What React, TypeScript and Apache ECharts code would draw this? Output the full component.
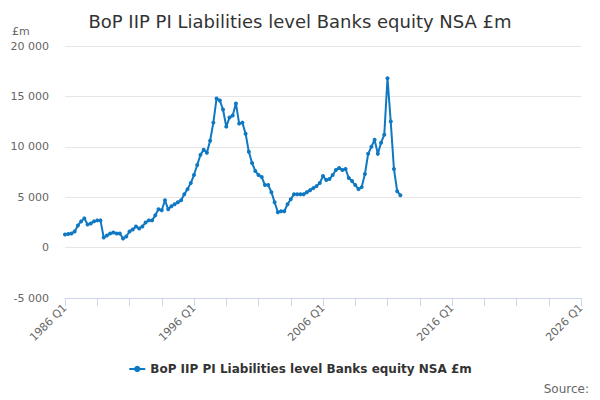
import React, { useEffect, useRef } from "react";
import * as echarts from "echarts";

const title = "BoP IIP PI Liabilities level Banks equity NSA £m";
const seriesName = "BoP IIP PI Liabilities level Banks equity NSA £m";
const unitLabel = "£m";
const sourceLabel = "Source:";
const startYear = 1986;
const endYear = 2026;
const quarterLabels: string[] = [];
for (let y = startYear; y <= endYear; y++) {
  for (let q = 1; q <= 4; q++) {
    if (y === endYear && q > 1) break;
    quarterLabels.push(`${y} Q${q}`);
  }
}
// 1986 Q1 .. 2012 Q1
const values = [
  1300, 1350, 1400, 1600, 2200, 2600, 2900, 2300, 2400, 2600, 2700, 2700,
  1000, 1200, 1400, 1500, 1400, 1400, 900, 1100, 1600, 1800, 2100, 1900,
  2100, 2500, 2700, 2700, 3200, 3800, 3700, 4700, 3800, 4100, 4300, 4500,
  4700, 5300, 5800, 6400, 7200, 8200, 9200, 9700, 9400, 10600, 12400, 14800,
  14600, 13700, 12000, 12900, 13100, 14300, 12300, 12400, 11300, 9500, 8400, 7600,
  7200, 7000, 6200, 6200, 5500, 4500, 3500, 3600, 3600, 4300, 4800, 5300,
  5300, 5300, 5300, 5500, 5700, 5900, 6100, 6400, 7100, 6700, 6800, 7200,
  7700, 7900, 7700, 7800, 6900, 6600, 6200, 5800, 6000, 7300, 9300, 10000,
  10700, 9300, 10400, 11200, 16800, 12500, 7800, 5600, 5200,
];
const yMin = -5000;
const yMax = 20000;
const yStep = 5000;

const fmt = (v: number) => {
  const s = Math.abs(v).toString().replace(/\B(?=(\d{3})+(?!\d))/g, " ");
  return (v < 0 ? "-" : "") + s;
};

export default function App() {
  const ref = useRef<HTMLDivElement>(null);
  useEffect(() => {
    if (!ref.current) return;
    const chart = echarts.init(ref.current, null, { renderer: "svg" });
    const font = "DejaVu Sans";
    chart.setOption({
      animation: false,
      textStyle: { fontFamily: font },
      title: {
        text: title,
        left: "center",
        top: 7,
        textStyle: { fontFamily: font, fontSize: 18, fontWeight: "normal", color: "#333333" },
      },
      graphic: [
        {
          type: "text",
          left: 12,
          top: 26,
          style: { text: unitLabel, fontFamily: font, fontSize: 11, fill: "#666666" },
        },
        {
          type: "text",
          right: 11,
          top: 383,
          style: { text: sourceLabel, fontFamily: font, fontSize: 12, fill: "#666666" },
        },
      ],
      legend: {
        bottom: 20,
        left: "center",
        itemWidth: 16,
        itemHeight: 8,
        textStyle: { fontFamily: font, fontSize: 12, fontWeight: "bold", color: "#333333" },
        data: [seriesName],
      },
      grid: { left: 65, right: 19, top: 46, bottom: 102 },
      xAxis: {
        type: "category",
        data: quarterLabels,
        boundaryGap: false,
        axisLine: { onZero: false, lineStyle: { color: "#ccd6eb" } },
        axisTick: { interval: 9, length: 8, lineStyle: { color: "#ccd6eb" } },
        axisLabel: {
          interval: 39,
          rotate: 45,
          color: "#666666",
          fontSize: 11,
          fontFamily: font,
          margin: 8,
        },
        splitLine: { show: false },
      },
      yAxis: {
        type: "value",
        min: yMin,
        max: yMax,
        interval: yStep,
        axisLine: { show: false },
        axisTick: { show: false },
        axisLabel: { color: "#666666", fontSize: 11, fontFamily: font, margin: 16, formatter: fmt },
        splitLine: { lineStyle: { color: "#e6e6e6" } },
      },
      series: [
        {
          name: seriesName,
          type: "line",
          data: values,
          symbol: "circle",
          symbolSize: 4,
          showSymbol: true,
          showAllSymbol: true,
          itemStyle: { color: "#0f78c2" },
          lineStyle: { color: "#0f78c2", width: 2 },
        },
      ],
    });
    return () => chart.dispose();
  }, []);
  return (
    <div
      ref={ref}
      style={{ position: "absolute", left: 0, top: 0, width: 600, height: 400 }}
    />
  );
}
